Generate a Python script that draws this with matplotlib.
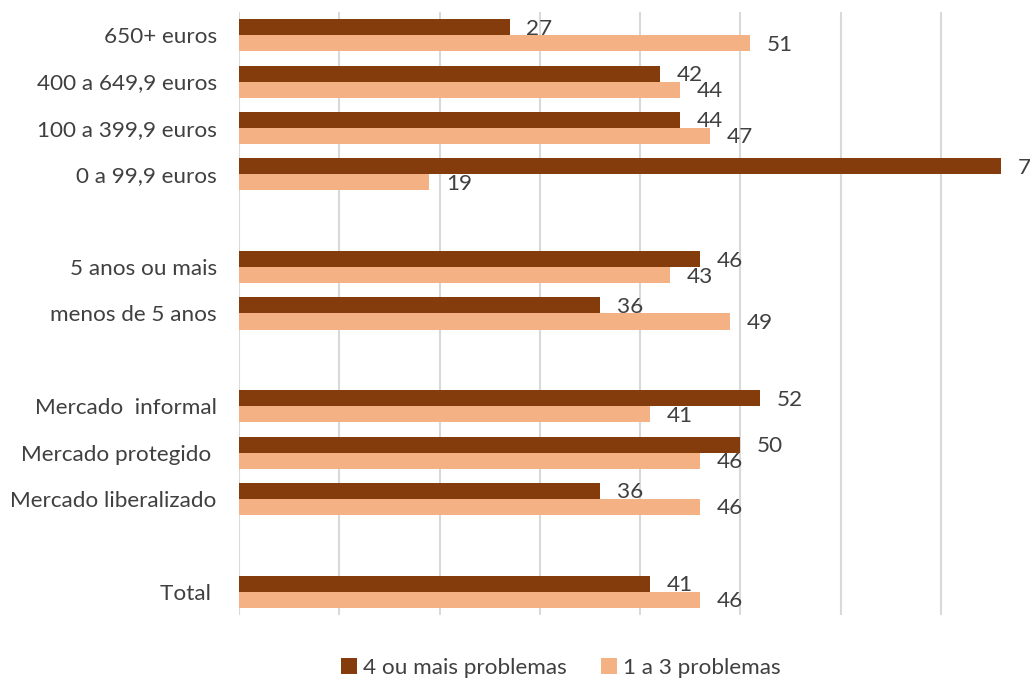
import numpy as np
import matplotlib.pyplot as plt

plt.rcParams['font.family'] = ['Lato', 'DejaVu Sans']

# grupos de categorias (de cima para baixo), separados por um espaco vazio
grupos = [
    ["650+ euros", "400 a 649,9 euros", "100 a 399,9 euros", "0 a 99,9 euros"],
    ["5 anos ou mais", "menos de 5 anos"],
    ["Mercado  informal", "Mercado protegido ", "Mercado liberalizado"],
    ["Total "],
]
mais4 = [27, 42, 44, 76, 46, 36, 52, 50, 36, 41]
de1a3 = [51, 44, 47, 19, 43, 49, 41, 46, 46, 46]

cor_escura = "#843C0C"
cor_clara = "#F4B183"
cor_texto = "#404040"
fs = 16.2

# posicoes com uma linha vazia entre grupos
pos = []
nomes = []
p = 0
for g in grupos:
    for nome in g:
        pos.append(p)
        nomes.append(nome)
        p += 1
    p += 1
pos = np.array(pos)

fig = plt.figure(figsize=(10.3, 6.82), dpi=100)
ax = fig.add_axes([239/1030, 1 - 615/682, (1041 - 239)/1030, (615 - 12)/682])

h = 0.345
b1 = ax.barh(pos - h/2, mais4, height=h, color=cor_escura, label="4 ou mais problemas", zorder=3)
b2 = ax.barh(pos + h/2, de1a3, height=h, color=cor_clara, label="1 a 3 problemas", zorder=3)

for bars, vals in [(b1, mais4), (b2, de1a3)]:
    for r, v in zip(bars, vals):
        ax.annotate(str(v), (r.get_width(), r.get_y() + r.get_height()/2),
                    xytext=(12, -1), textcoords="offset points",
                    ha="left", va="center", fontsize=fs, color=cor_texto,
                    annotation_clip=False)

ax.set_xlim(0, 80)
ax.set_ylim(p - 0.5 - 1, -0.5)
ax.set_xticks(np.arange(0, 81, 10))
ax.set_xticklabels([])
ax.set_yticks(pos)
ax.set_yticklabels(nomes, fontsize=fs, color=cor_texto)
ax.tick_params(axis="both", length=0, pad=16)
ax.grid(axis="x", color="#D9D9D9", linewidth=1.5, zorder=0)
for s in ["top", "right", "bottom", "left"]:
    ax.spines[s].set_visible(False)

fig.legend(handles=[b1, b2], loc="center", bbox_to_anchor=(561/1030, 1 - 668/682),
           ncol=2, frameon=False, fontsize=fs, handlelength=0.7, handleheight=0.7,
           handletextpad=0.3, columnspacing=1.5, labelcolor=cor_texto)

fig.savefig("out.png", dpi=100)
